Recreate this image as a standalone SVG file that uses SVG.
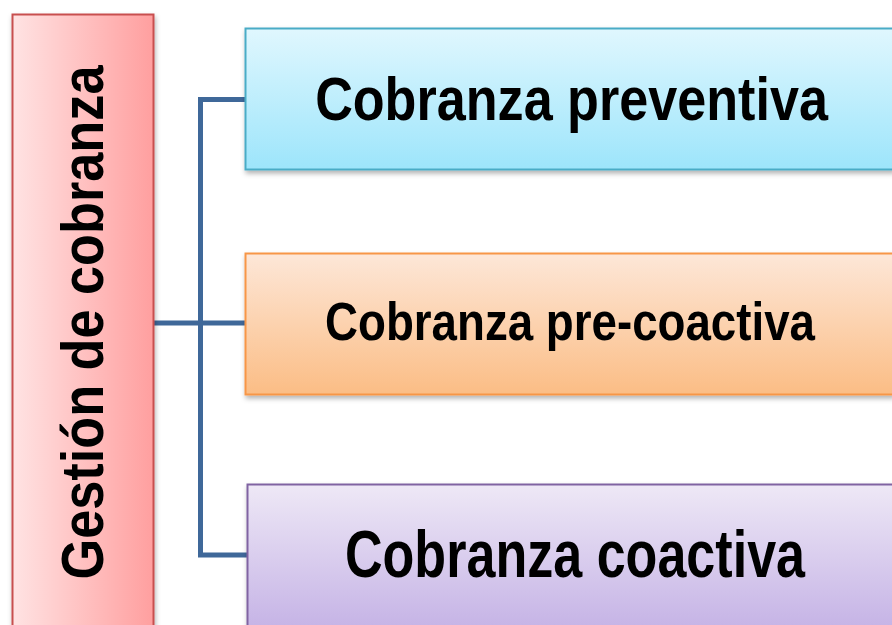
<svg xmlns="http://www.w3.org/2000/svg" width="892" height="625" viewBox="0 0 892 625">
<style>
.t{font-family:"Liberation Sans",Arial,sans-serif;font-weight:bold;fill:#000;text-anchor:middle;}
.conn{fill:none;stroke:#3f6899;stroke-width:5;}
</style>
<defs>
<linearGradient id="gRed" x1="0" y1="0" x2="1" y2="0"><stop offset="0" stop-color="#ffe3e3"/><stop offset="1" stop-color="#ff9f9f"/></linearGradient>
<linearGradient id="gBlue" x1="0" y1="0" x2="0" y2="1"><stop offset="0" stop-color="#e0f7fe"/><stop offset="1" stop-color="#9de5fb"/></linearGradient>
<linearGradient id="gOrange" x1="0" y1="0" x2="0" y2="1"><stop offset="0" stop-color="#fde7d8"/><stop offset="1" stop-color="#fbbd85"/></linearGradient>
<linearGradient id="gPurple" x1="0" y1="0" x2="0" y2="1"><stop offset="0" stop-color="#eee8f6"/><stop offset="1" stop-color="#c6b4e6"/></linearGradient>
<filter id="sh" x="-10%" y="-10%" width="120%" height="130%"><feDropShadow dx="1" dy="3" stdDeviation="2.5" flood-color="#000" flood-opacity="0.3"/></filter>
</defs>
<rect width="892" height="625" fill="#fff"/>
<g id="connectors">
<path class="conn" d="M154 323 H246"/>
<path class="conn" d="M246 99.5 H200.5 V555 H248"/>
</g>
<g id="gestion">
<rect x="12.5" y="14.5" width="141" height="612" fill="url(#gRed)" stroke="#c8504f" stroke-width="2" filter="url(#sh)"/>
<text class="t" font-size="60" transform="translate(103,322.5) rotate(-90) scale(0.871,1)">Gestión de cobranza</text>
</g>
<g id="preventiva">
<rect x="245.5" y="28.5" width="648" height="141" fill="url(#gBlue)" stroke="#4aacc6" stroke-width="2" filter="url(#sh)"/>
<text class="t" font-size="62" transform="translate(571.5,120) scale(0.841,1)">Cobranza preventiva</text>
</g>
<g id="precoactiva">
<rect x="245.5" y="253.5" width="648" height="141" fill="url(#gOrange)" stroke="#f79646" stroke-width="2" filter="url(#sh)"/>
<text class="t" font-size="53" transform="translate(570,340) scale(0.862,1)">Cobranza pre-coactiva</text>
</g>
<g id="coactiva">
<rect x="247.5" y="484.5" width="646" height="142" fill="url(#gPurple)" stroke="#8064a2" stroke-width="2" filter="url(#sh)"/>
<text class="t" font-size="66" transform="translate(575,577) scale(0.789,1)">Cobranza coactiva</text>
</g>
</svg>
